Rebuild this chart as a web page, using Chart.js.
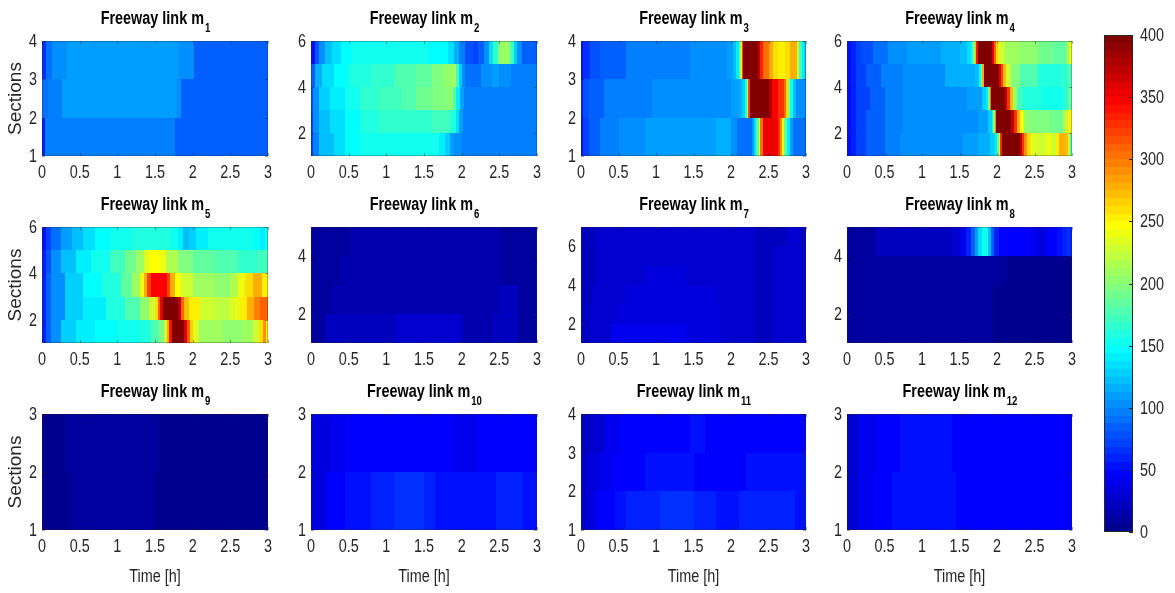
<!DOCTYPE html>
<html>
<head>
<meta charset="utf-8">
<script src="https://cdn.jsdelivr.net/npm/chart.js@4.4.1/dist/chart.umd.min.js"></script>
<style>
  body { margin: 0; background: #fff; }
  #fig { position: relative; width: 1175px; height: 593px; overflow: hidden; }
  #fig canvas { position: absolute; }
</style>
</head>
<body>
<div id="fig"></div>
<script>
// Density per section over time. Each row is one section band (bottom first),
// given as [start time in h, value] pairs; a value holds until the next start.
const linkNames = ["1", "2", "3", "4", "5", "6", "7", "8", "9", "10", "11", "12"];
const sectionMax = [4, 6, 4, 6, 6, 5, 7, 5, 3, 3, 4, 3];
const sectionTicks = [
  [1, 2, 3, 4], [2, 4, 6], [1, 2, 3, 4], [2, 4, 6],
  [2, 4, 6], [2, 4], [2, 4, 6], [2, 4],
  [1, 2, 3], [1, 2, 3], [1, 2, 3, 4], [1, 2, 3]
];
const timeTicks = [0, 0.5, 1, 1.5, 2, 2.5, 3];
const colorTicks = [0, 50, 100, 150, 200, 250, 300, 350, 400];

const m1 = [
  [[0, 62], [0.04, 98], [1.77, 84]],
  [[0, 88], [0.08, 98], [0.27, 107], [1.78, 100], [1.85, 84]],
  [[0, 65], [0.05, 88], [0.13, 100], [0.33, 112], [1.81, 102], [2.02, 84]]
];
const m2 = [
  [[0, 70], [0.03, 95], [0.1, 120], [0.3, 135], [0.45, 145], [0.65, 150], [1.7, 142], [1.78, 128], [1.85, 110], [1.9, 100], [2.0, 95]],
  [[0, 72], [0.03, 100], [0.1, 122], [0.25, 135], [0.45, 148], [0.65, 158], [0.9, 163], [1.3, 167], [1.6, 170], [1.85, 160], [1.92, 135], [1.97, 110], [2.02, 95]],
  [[0, 78], [0.03, 105], [0.1, 128], [0.25, 142], [0.45, 155], [0.65, 165], [0.9, 172], [1.2, 180], [1.4, 188], [1.6, 198], [1.8, 205], [1.88, 175], [1.93, 140], [1.98, 110], [2.03, 95]],
  [[0, 85], [0.05, 115], [0.15, 135], [0.3, 148], [0.5, 158], [0.8, 168], [1.1, 175], [1.4, 185], [1.6, 195], [1.75, 205], [1.85, 212], [1.92, 170], [1.96, 130], [2.0, 105], [2.05, 92], [2.25, 100], [2.4, 108], [2.5, 102], [2.65, 95]],
  [[0, 55], [0.05, 78], [0.1, 100], [0.18, 120], [0.28, 135], [0.4, 145], [0.55, 150], [1.55, 148], [1.7, 145], [1.82, 135], [1.9, 118], [1.97, 98], [2.05, 80], [2.15, 72], [2.22, 85], [2.3, 105], [2.36, 135], [2.42, 165], [2.48, 195], [2.52, 208], [2.62, 195], [2.66, 165], [2.7, 130], [2.74, 100], [2.8, 85]]
];
const m3 = [
  [[0, 55], [0.03, 72], [0.1, 85], [0.25, 95], [0.5, 103], [0.85, 110], [1.8, 115], [2.0, 100], [2.08, 88], [2.2, 92], [2.28, 110], [2.31, 135], [2.34, 180], [2.37, 245], [2.39, 300], [2.42, 350], [2.62, 330], [2.65, 290], [2.68, 240], [2.71, 185], [2.74, 140], [2.78, 110], [2.83, 88]],
  [[0, 58], [0.03, 75], [0.1, 85], [0.3, 95], [0.95, 102], [1.4, 106], [2.0, 112], [2.1, 118], [2.15, 130], [2.19, 160], [2.21, 220], [2.23, 320], [2.25, 400], [2.5, 375], [2.55, 345], [2.62, 325], [2.7, 300], [2.73, 260], [2.76, 200], [2.79, 150], [2.82, 120], [2.86, 100]],
  [[0, 52], [0.03, 68], [0.12, 78], [0.25, 85], [0.6, 95], [1.45, 100], [1.95, 110], [2.02, 122], [2.07, 140], [2.1, 175], [2.12, 230], [2.14, 320], [2.16, 400], [2.36, 370], [2.39, 335], [2.43, 300], [2.5, 280], [2.56, 262], [2.62, 250], [2.72, 258], [2.78, 275], [2.84, 280], [2.88, 230], [2.91, 170], [2.94, 140], [2.97, 125]]
];
const m4 = [
  [[0, 52], [0.05, 62], [0.12, 72], [0.25, 85], [0.5, 95], [0.7, 103], [1.55, 108], [1.75, 115], [1.9, 125], [1.97, 140], [2.0, 180], [2.02, 250], [2.04, 330], [2.06, 400], [2.3, 370], [2.33, 330], [2.36, 290], [2.4, 260], [2.45, 235], [2.55, 225], [2.65, 240], [2.72, 225], [2.78, 255], [2.83, 280], [2.9, 270], [2.94, 230], [2.97, 180]],
  [[0, 52], [0.05, 62], [0.12, 72], [0.25, 85], [0.5, 95], [0.75, 103], [1.75, 112], [1.88, 125], [1.93, 145], [1.95, 200], [1.97, 290], [1.99, 400], [2.19, 370], [2.22, 330], [2.26, 280], [2.3, 240], [2.36, 205], [2.45, 195], [2.7, 190], [2.88, 215], [2.93, 255], [2.97, 240]],
  [[0, 52], [0.05, 62], [0.12, 72], [0.3, 85], [0.5, 95], [0.75, 103], [1.6, 112], [1.8, 125], [1.85, 140], [1.88, 200], [1.9, 300], [1.92, 400], [2.1, 370], [2.13, 330], [2.17, 270], [2.21, 210], [2.26, 170], [2.35, 158], [2.6, 152], [2.88, 165], [2.95, 185]],
  [[0, 52], [0.05, 62], [0.12, 72], [0.25, 85], [0.45, 95], [0.75, 105], [1.3, 113], [1.7, 122], [1.76, 145], [1.78, 200], [1.8, 280], [1.82, 400], [2.02, 360], [2.05, 320], [2.08, 270], [2.12, 225], [2.18, 195], [2.3, 175], [2.55, 160], [2.85, 168], [2.95, 180]],
  [[0, 50], [0.05, 60], [0.12, 70], [0.2, 80], [0.35, 90], [0.55, 100], [0.8, 108], [1.25, 115], [1.5, 122], [1.6, 132], [1.65, 150], [1.68, 200], [1.7, 270], [1.72, 340], [1.74, 400], [1.93, 360], [1.96, 310], [1.99, 260], [2.03, 225], [2.1, 212], [2.3, 200], [2.55, 192], [2.75, 185], [2.92, 200], [2.96, 240]]
];
const m5 = [
  [[0, 62], [0.05, 85], [0.12, 105], [0.25, 125], [0.45, 140], [0.7, 148], [1.0, 155], [1.3, 162], [1.45, 175], [1.55, 195], [1.62, 230], [1.66, 280], [1.69, 340], [1.72, 400], [1.89, 360], [1.92, 310], [1.96, 265], [2.0, 235], [2.08, 210], [2.4, 203], [2.65, 212], [2.8, 230], [2.88, 260], [2.93, 290], [2.97, 240]],
  [[0, 60], [0.05, 85], [0.12, 105], [0.3, 125], [0.55, 142], [0.85, 160], [1.1, 180], [1.3, 200], [1.42, 225], [1.5, 260], [1.54, 310], [1.57, 360], [1.6, 400], [1.8, 370], [1.84, 310], [1.88, 270], [1.95, 250], [2.1, 230], [2.3, 222], [2.5, 235], [2.62, 255], [2.72, 275], [2.82, 295], [2.9, 310]],
  [[0, 60], [0.05, 85], [0.12, 105], [0.3, 128], [0.55, 145], [0.8, 162], [1.05, 185], [1.2, 210], [1.3, 240], [1.36, 280], [1.4, 320], [1.45, 345], [1.66, 320], [1.7, 280], [1.76, 245], [1.85, 225], [2.0, 212], [2.3, 205], [2.5, 218], [2.6, 240], [2.7, 262], [2.8, 275], [2.92, 255]],
  [[0, 58], [0.05, 80], [0.12, 100], [0.25, 122], [0.45, 140], [0.65, 155], [0.9, 172], [1.1, 190], [1.25, 210], [1.35, 235], [1.42, 248], [1.55, 238], [1.65, 215], [1.8, 195], [2.0, 185], [2.3, 175], [2.6, 168], [2.85, 172]],
  [[0, 52], [0.05, 70], [0.12, 90], [0.25, 108], [0.4, 122], [0.55, 135], [0.7, 145], [0.9, 152], [1.2, 158], [1.5, 162], [1.7, 155], [1.8, 140], [1.87, 122], [1.95, 130], [2.05, 142], [2.2, 150], [2.5, 155], [2.8, 148], [2.9, 140], [2.96, 150]]
];
const m6 = [
  [[0, 12], [0.18, 20], [1.13, 26], [2.0, 17], [2.4, 20], [2.75, 12]],
  [[0, 12], [0.27, 18], [2.1, 14], [2.5, 20], [2.75, 12]],
  [[0, 12], [0.4, 16], [2.1, 13], [2.5, 12]],
  [[0, 12], [0.5, 16], [2.1, 13], [2.5, 12]]
];
const m7 = [
  [[0, 20], [0.1, 30], [0.4, 38], [1.4, 33], [1.85, 26], [2.3, 20], [2.55, 26]],
  [[0, 20], [0.1, 30], [0.45, 36], [1.4, 32], [1.85, 26], [2.3, 20], [2.55, 26]],
  [[0, 20], [0.15, 30], [0.6, 36], [1.4, 32], [1.8, 26], [2.3, 20], [2.55, 26]],
  [[0, 20], [0.2, 30], [0.85, 34], [1.4, 30], [1.75, 26], [2.3, 20], [2.55, 26]],
  [[0, 20], [0.2, 28], [0.85, 30], [1.75, 26], [2.3, 20], [2.55, 26]],
  [[0, 20], [0.2, 28], [1.75, 26], [2.3, 20], [2.75, 26], [2.95, 20]]
];
const m8 = [
  [[0, 10], [1.95, 6]],
  [[0, 10], [1.95, 6]],
  [[0, 10], [2.1, 6]],
  [[0, 8], [0.38, 22], [1.4, 26], [1.5, 40], [1.58, 60], [1.65, 85], [1.7, 110], [1.75, 135], [1.8, 150], [1.88, 120], [1.92, 85], [1.96, 60], [2.02, 48], [2.15, 44], [2.45, 40], [2.55, 35], [2.65, 45], [2.8, 50], [2.87, 58], [2.93, 68], [2.97, 60]]
];
const m9 = [
  [[0, 3], [0.38, 8], [1.5, 4]],
  [[0, 3], [0.3, 7], [1.55, 4]]
];
const m10 = [
  [[0, 36], [0.2, 44], [0.45, 50], [0.6, 55], [0.8, 60], [1.1, 66], [1.5, 60], [1.65, 56], [1.8, 52], [2.1, 56], [2.45, 60], [2.8, 55]],
  [[0, 32], [0.25, 38], [0.45, 44], [0.65, 48], [1.6, 45], [1.9, 40], [2.2, 46], [2.5, 44], [2.75, 48]]
];
const m11 = [
  [[0, 28], [0.1, 36], [0.2, 44], [0.45, 52], [0.6, 57], [0.8, 62], [1.05, 66], [1.5, 60], [1.8, 55], [2.1, 57], [2.45, 62], [2.85, 56]],
  [[0, 26], [0.1, 34], [0.25, 42], [0.4, 48], [0.85, 52], [1.5, 48], [2.2, 50]],
  [[0, 22], [0.1, 30], [0.3, 38], [0.5, 45], [1.45, 50], [1.65, 44], [2.2, 46]]
];
const m12 = [
  [[0, 28], [0.15, 38], [0.35, 45], [0.6, 52], [1.45, 49], [1.65, 46]],
  [[0, 28], [0.15, 38], [0.4, 45], [0.7, 51], [1.4, 48], [1.65, 45]]
];
const links = [m1, m2, m3, m4, m5, m6, m7, m8, m9, m10, m11, m12];

const colorMax = 400;
const colorLevels = 64;

// plot area corners on the page
const colLeft = [42, 311, 581, 847];
const colRight = [268, 537, 806, 1072];
const rowTop = [41, 227, 414];
const rowBottom = [156, 343, 530];

const FONT = '"Liberation Sans", Arial, sans-serif';
const SQUEEZE = 0.8; // narrow lettering
const TEXT = '#262626';
const TICK_FONT = '18px ' + FONT;
const fig = document.getElementById('fig');

// jet colormap, 64 entries
function jetPart(i) {
  if (i < 1 || i > 47) return 0;
  if (i <= 16) return i / 16;
  if (i <= 31) return 1;
  return (48 - i) / 16;
}
function jetColor(v) {
  let k = Math.floor(v / colorMax * colorLevels) + 1;
  k = Math.max(1, Math.min(colorLevels, k));
  const r = Math.round(jetPart(k - 24) * 255);
  const g = Math.round(jetPart(k - 8) * 255);
  const b = Math.round(jetPart(k + 8) * 255);
  return `rgb(${r},${g},${b})`;
}

function makeCanvas(left, top, w, h) {
  const c = document.createElement('canvas');
  c.width = w;
  c.height = h;
  c.style.left = left + 'px';
  c.style.top = top + 'px';
  c.style.width = w + 'px';
  c.style.height = h + 'px';
  fig.appendChild(c);
  return c;
}

// text squeezed horizontally
function narrowText(ctx, text, x, y, font, align, color) {
  ctx.save();
  ctx.font = font;
  ctx.fillStyle = color;
  ctx.textAlign = align;
  ctx.textBaseline = 'alphabetic';
  ctx.translate(x, y);
  ctx.scale(SQUEEZE, 1);
  ctx.fillText(text, 0, 0);
  ctx.restore();
}

function heatPlugin(rows, idx, showTime) {
  return {
    id: 'heat' + idx,
    beforeDatasetsDraw(chart) {
      const { ctx, chartArea: a } = chart;
      const x = chart.scales.x, y = chart.scales.y;
      ctx.save();
      ctx.beginPath();
      ctx.rect(a.left, a.top, a.right - a.left, a.bottom - a.top);
      ctx.clip();
      rows.forEach((row, r) => {
        const yTop = Math.round(y.getPixelForValue(r + 2));
        const yBot = Math.round(y.getPixelForValue(r + 1));
        row.forEach(([t, v], i) => {
          const tEnd = i + 1 < row.length ? row[i + 1][0] : 3;
          const x0 = Math.round(x.getPixelForValue(t));
          const x1 = Math.round(x.getPixelForValue(tEnd));
          ctx.fillStyle = jetColor(v);
          ctx.fillRect(x0, yTop, x1 - x0, yBot - yTop);
        });
      });
      ctx.restore();
    },
    afterDraw(chart) {
      const { ctx, chartArea: a } = chart;
      const x = chart.scales.x, y = chart.scales.y;
      ctx.save();
      // box and inward ticks
      ctx.strokeStyle = 'rgba(38,38,38,0.3)';
      ctx.lineWidth = 1;
      ctx.strokeRect(a.left + 0.5, a.top + 0.5, a.right - a.left - 1, a.bottom - a.top - 1);
      ctx.strokeStyle = 'rgba(38,38,38,0.45)';
      ctx.beginPath();
      x.ticks.forEach(t => {
        const px = Math.round(x.getPixelForValue(t.value)) + 0.5;
        ctx.moveTo(px, a.bottom); ctx.lineTo(px, a.bottom - 3);
        ctx.moveTo(px, a.top); ctx.lineTo(px, a.top + 3);
      });
      y.ticks.forEach(t => {
        const py = Math.round(y.getPixelForValue(t.value)) + 0.5;
        ctx.moveTo(a.left, py); ctx.lineTo(a.left + 3, py);
        ctx.moveTo(a.right, py); ctx.lineTo(a.right - 3, py);
      });
      ctx.stroke();
      ctx.restore();

      // tick labels
      x.ticks.forEach(t => {
        narrowText(ctx, String(t.value), x.getPixelForValue(t.value), a.bottom + 22, TICK_FONT, 'center', TEXT);
      });
      y.ticks.forEach(t => {
        narrowText(ctx, String(t.value), a.left - 5, y.getPixelForValue(t.value) + 6, TICK_FONT, 'right', TEXT);
      });
      if (showTime) {
        narrowText(ctx, 'Time [h]', (a.left + a.right) / 2, a.bottom + 52, TICK_FONT, 'center', TEXT);
      }

      // title with subscript link number
      const main = 'Freeway link m';
      const sub = linkNames[idx];
      const mainFont = 'bold 18px ' + FONT;
      const subFont = 'bold 12px ' + FONT;
      ctx.save();
      ctx.font = mainFont;
      const w1 = ctx.measureText(main).width * SQUEEZE;
      ctx.font = subFont;
      const w2 = ctx.measureText(sub).width * SQUEEZE;
      ctx.restore();
      const start = (a.left + a.right) / 2 - (w1 + w2) / 2;
      const base = a.top - 17;
      narrowText(ctx, main, start, base, mainFont, 'left', '#000');
      narrowText(ctx, sub, start + w1 + 1, base + 8, subFont, 'left', '#000');
    }
  };
}

links.forEach((rows, i) => {
  const col = i % 4;
  const row = Math.floor(i / 4);
  const plotW = colRight[col] - colLeft[col];
  const plotH = rowBottom[row] - rowTop[row];
  const yW = 42, padTop = 36, padRight = 10;
  const xH = row === 2 ? 58 : 30;
  const canvas = makeCanvas(colLeft[col] - yW, rowTop[row] - padTop, yW + plotW + padRight, padTop + plotH + xH);

  new Chart(canvas, {
    type: 'scatter',
    data: { datasets: [{ data: [] }] },
    options: {
      responsive: false,
      animation: false,
      devicePixelRatio: 1,
      layout: { padding: { left: 0, top: padTop, right: padRight, bottom: 0 } },
      plugins: { legend: { display: false }, tooltip: { enabled: false } },
      scales: {
        x: {
          type: 'linear',
          min: 0,
          max: 3,
          grid: { display: false, drawTicks: false },
          border: { display: false },
          afterBuildTicks: s => { s.ticks = timeTicks.map(v => ({ value: v })); },
          afterFit: s => { s.height = xH; s.paddingLeft = 0; s.paddingRight = 0; },
          ticks: { display: false }
        },
        y: {
          type: 'linear',
          min: 1,
          max: sectionMax[i],
          grid: { display: false, drawTicks: false },
          border: { display: false },
          afterBuildTicks: s => { s.ticks = sectionTicks[i].map(v => ({ value: v })); },
          afterFit: s => { s.width = yW; s.paddingTop = 0; s.paddingBottom = 0; },
          ticks: { display: false },
          title: {
            display: col === 0,
            text: 'Sections',
            color: TEXT,
            font: { family: FONT, size: 19 },
            padding: { top: 4, bottom: 0 }
          }
        }
      }
    },
    plugins: [heatPlugin(rows, i, row === 2)]
  });
});

// colorbar
const cbLeft = 1104, cbRight = 1133, cbTop = 35, cbBottom = 532;
const cbCanvas = makeCanvas(cbLeft - 4, cbTop - 15, 1175 - (cbLeft - 4), (cbBottom - cbTop) + 30);
new Chart(cbCanvas, {
  type: 'scatter',
  data: { datasets: [{ data: [] }] },
  options: {
    responsive: false,
    animation: false,
    devicePixelRatio: 1,
    layout: { padding: { left: 4, top: 15, right: 0, bottom: 15 } },
    plugins: { legend: { display: false }, tooltip: { enabled: false } },
    scales: {
      x: { type: 'linear', min: 0, max: 1, display: false },
      y: {
        type: 'linear',
        position: 'right',
        min: 0,
        max: colorMax,
        grid: { display: false, drawTicks: false },
        border: { display: false },
        afterBuildTicks: s => { s.ticks = colorTicks.map(v => ({ value: v })); },
        afterFit: s => { s.width = 1175 - cbRight; s.paddingTop = 0; s.paddingBottom = 0; },
        ticks: { display: false }
      }
    }
  },
  plugins: [{
    id: 'colorbar',
    beforeDatasetsDraw(chart) {
      const { ctx, chartArea: a } = chart;
      const y = chart.scales.y;
      const step = colorMax / colorLevels;
      for (let k = 0; k < colorLevels; k++) {
        const y0 = Math.round(y.getPixelForValue((k + 1) * step));
        const y1 = Math.round(y.getPixelForValue(k * step));
        ctx.fillStyle = jetColor(k * step + step / 2);
        ctx.fillRect(a.left, y0, a.right - a.left, y1 - y0);
      }
    },
    afterDraw(chart) {
      const { ctx, chartArea: a } = chart;
      const y = chart.scales.y;
      ctx.save();
      ctx.strokeStyle = TEXT;
      ctx.lineWidth = 1;
      ctx.strokeRect(a.left + 0.5, a.top + 0.5, a.right - a.left - 1, a.bottom - a.top - 1);
      ctx.beginPath();
      y.ticks.forEach(t => {
        const py = Math.round(y.getPixelForValue(t.value)) + 0.5;
        ctx.moveTo(a.right, py);
        ctx.lineTo(a.right - 4, py);
      });
      ctx.stroke();
      ctx.restore();
      y.ticks.forEach(t => {
        narrowText(ctx, String(t.value), a.right + 7, y.getPixelForValue(t.value) + 6, TICK_FONT, 'left', TEXT);
      });
    }
  }]
});
</script>
</body>
</html>
